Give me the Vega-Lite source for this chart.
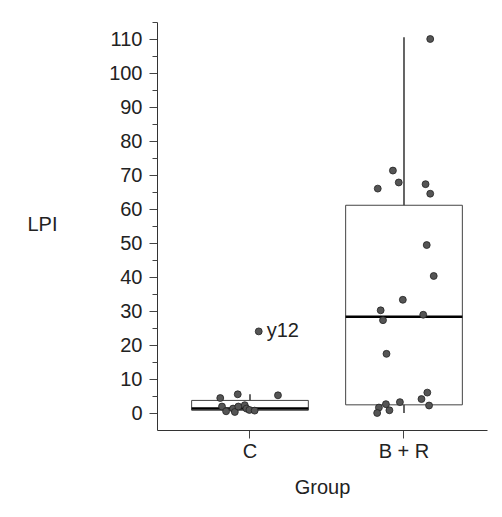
{
  "$schema": "https://vega.github.io/schema/vega-lite/v6.json",
  "width": 330,
  "height": 408,
  "autosize": {"type": "none"},
  "padding": {"left": 157, "top": 22, "right": 15, "bottom": 87},
  "config": {"view": {"stroke": null}, "font": "Liberation Sans"},
  "resolve": {"axis": {"y": "independent"}},
  "datasets": {
    "stats": [
      {"group": "C", "lower": 0.3, "q1": 0.8, "median": 1.3, "q3": 3.7, "upper": 5.5},
      {"group": "B + R", "lower": 0.0, "q1": 2.4, "median": 28.3, "q3": 61.1, "upper": 110.5}
    ],
    "points": [
      {"group": "C", "value": 4.4, "jitter": -0.51},
      {"group": "C", "value": 5.5, "jitter": -0.21},
      {"group": "C", "value": 5.2, "jitter": 0.48},
      {"group": "C", "value": 1.9, "jitter": -0.48},
      {"group": "C", "value": 0.5, "jitter": -0.41},
      {"group": "C", "value": 1.3, "jitter": -0.29},
      {"group": "C", "value": 0.3, "jitter": -0.26},
      {"group": "C", "value": 1.9, "jitter": -0.2},
      {"group": "C", "value": 2.3, "jitter": -0.09},
      {"group": "C", "value": 1.3, "jitter": -0.06},
      {"group": "C", "value": 0.9, "jitter": -0.01},
      {"group": "C", "value": 0.7, "jitter": 0.08},
      {"group": "C", "value": 24.0, "jitter": 0.15, "label": "y12"},
      {"group": "B + R", "value": 110.0, "jitter": 0.45},
      {"group": "B + R", "value": 71.3, "jitter": -0.19},
      {"group": "B + R", "value": 67.8, "jitter": -0.09},
      {"group": "B + R", "value": 66.0, "jitter": -0.45},
      {"group": "B + R", "value": 67.3, "jitter": 0.37},
      {"group": "B + R", "value": 64.5, "jitter": 0.45},
      {"group": "B + R", "value": 49.4, "jitter": 0.39},
      {"group": "B + R", "value": 40.3, "jitter": 0.51},
      {"group": "B + R", "value": 33.3, "jitter": -0.02},
      {"group": "B + R", "value": 30.2, "jitter": -0.4},
      {"group": "B + R", "value": 28.9, "jitter": 0.33},
      {"group": "B + R", "value": 27.3, "jitter": -0.36},
      {"group": "B + R", "value": 17.4, "jitter": -0.3},
      {"group": "B + R", "value": 6.0, "jitter": 0.4},
      {"group": "B + R", "value": 4.1, "jitter": 0.3},
      {"group": "B + R", "value": 3.2, "jitter": -0.07},
      {"group": "B + R", "value": 2.6, "jitter": -0.31},
      {"group": "B + R", "value": 1.6, "jitter": -0.43},
      {"group": "B + R", "value": 0.8, "jitter": -0.25},
      {"group": "B + R", "value": 0.0, "jitter": -0.46},
      {"group": "B + R", "value": 2.2, "jitter": 0.43}
    ]
  },
  "encoding": {
    "x": {
      "field": "group", "type": "nominal", "sort": ["C", "B + R"],
      "scale": {"paddingInner": 0, "paddingOuter": 0.0714, "align": 0.727},
      "axis": {
        "title": "Group", "labelAngle": 0, "labelFontSize": 20, "labelColor": "#222222",
        "tickSize": 8, "tickColor": "#444444", "domainColor": "#333333", "labelPadding": 3,
        "titleFontSize": 20, "titleFontWeight": "normal", "titleColor": "#222222", "titlePadding": 16
      }
    }
  },
  "layer": [
    {
      "data": {"name": "stats"},
      "mark": {"type": "rule", "color": "#333333", "strokeWidth": 1.5},
      "encoding": {
        "y": {
          "field": "lower", "type": "quantitative", "title": "LPI",
          "scale": {"domain": [-5, 115], "nice": false, "zero": false},
          "axis": {
            "orient": "left",
            "values": [0, 10, 20, 30, 40, 50, 60, 70, 80, 90, 100, 110],
            "labelOverlap": false, "labelBound": false,
            "tickSize": 8,
            "grid": false, "labelFontSize": 20, "labelColor": "#222222", "labelPadding": 7,
            "tickColor": "#444444", "domainColor": "#333333",
            "titleAngle": 0, "titleFontSize": 20, "titleFontWeight": "normal",
            "titleColor": "#222222", "titleX": -115, "titleY": 202, "titleAlign": "center", "titleBaseline": "middle"
          }
        },
        "y2": {"field": "upper"}
      }
    },
    {
      "data": {"name": "stats"},
      "mark": {"type": "bar", "fill": "white", "stroke": "#444444", "strokeWidth": 1, "width": 116.7},
      "encoding": {
        "y": {"field": "q1", "type": "quantitative", "axis": null},
        "y2": {"field": "q3"}
      }
    },
    {
      "data": {"name": "stats"},
      "mark": {"type": "tick", "orient": "horizontal", "size": 116.7, "thickness": 2.5, "color": "black", "opacity": 1},
      "encoding": {
        "y": {"field": "median", "type": "quantitative", "axis": null}
      }
    },
    {
      "data": {"name": "points"},
      "mark": {"type": "point", "filled": true, "fill": "#555555", "stroke": "#222222", "strokeWidth": 0.8, "size": 48, "opacity": 1},
      "encoding": {
        "xOffset": {"field": "jitter", "type": "quantitative", "scale": {"domain": [-1, 1], "range": [18.7, 135.3]}},
        "y": {
          "field": "value", "type": "quantitative",
          "axis": {
            "orient": "left", "title": null, "labels": false, "domain": false, "grid": false,
            "values": [5, 15, 25, 35, 45, 55, 65, 75, 85, 95, 105, 115],
            "tickSize": 5, "tickColor": "#444444"
          }
        }
      }
    },
    {
      "data": {"name": "points"},
      "transform": [{"filter": "isValid(datum.label)"}],
      "mark": {"type": "text", "align": "left", "baseline": "middle", "dx": 8, "fontSize": 20, "color": "#222222"},
      "encoding": {
        "xOffset": {"field": "jitter", "type": "quantitative", "scale": {"domain": [-1, 1], "range": [18.7, 135.3]}},
        "y": {"field": "value", "type": "quantitative", "axis": null},
        "text": {"field": "label"}
      }
    }
  ]
}
